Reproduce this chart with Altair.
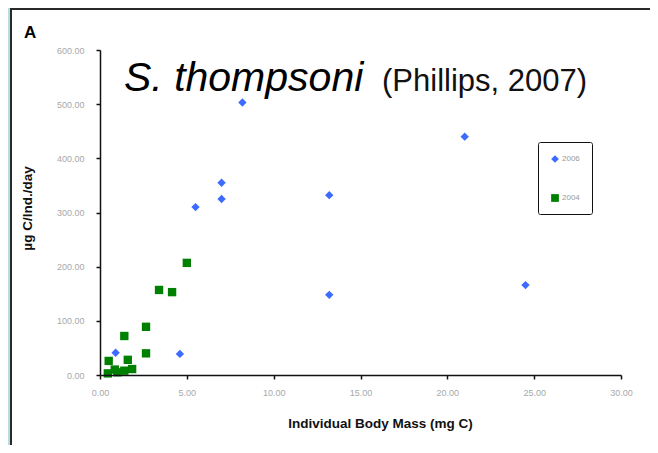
import altair as alt
import pandas as pd

# 2006 series (blue diamonds)
mass_2006 = [0.9, 4.6, 5.5, 7.0, 7.0, 8.2, 13.2, 13.2, 21.0, 24.5]
rate_2006 = [41, 39, 310, 325, 355, 503, 332, 148, 440, 166]
# 2004 series (green squares)
mass_2004 = [0.45, 0.5, 0.85, 1.0, 1.4, 1.4, 1.6, 1.85, 2.65, 2.65, 3.4, 4.15, 5.0]
rate_2004 = [3, 26, 10, 5, 8, 72, 28, 11, 40, 89, 157, 153, 207]

series_order = ["2006", "2004"]
series_colors = ["#3d6bff", "#008000"]
series_shapes = ["diamond", "square"]
x_ticks = [0, 5, 10, 15, 20, 25, 30]
y_ticks = [0, 100, 200, 300, 400, 500, 600]

df = pd.DataFrame({
    "mass": mass_2006 + mass_2004,
    "rate": rate_2006 + rate_2004,
    "year": ["2006"] * len(mass_2006) + ["2004"] * len(mass_2004),
})

W, H = 521, 325
font = "Liberation Sans"

panel = alt.Chart(pd.DataFrame({"a": [0]})).mark_rect(
    fill="white", stroke="#2a2a2a", strokeWidth=2
).encode(
    x=alt.value(-89), x2=alt.value(600), y=alt.value(-41), y2=alt.value(420)
)

points = alt.Chart(df).mark_point(filled=True, opacity=1, size=70).encode(
    x=alt.X("mass:Q", scale=alt.Scale(domain=[0, 30], nice=False, zero=True),
            axis=alt.Axis(values=x_ticks, format=".2f", title="Individual Body Mass (mg C)",
                          grid=False, titleX=280, titleY=41, zindex=2, labelPadding=9,
                          labelFlush=False)),
    y=alt.Y("rate:Q", scale=alt.Scale(domain=[0, 600], nice=False),
            axis=alt.Axis(values=y_ticks, format=".2f", title="µg C/Ind./day",
                          grid=False, titleX=-66, titleY=158, zindex=2, labelPadding=12,
                          labelFlush=False)),
    color=alt.Color("year:N", scale=alt.Scale(domain=series_order, range=series_colors),
                    legend=alt.Legend(title=None, orient="none", legendX=438, legendY=92,
                                      strokeColor="#111", padding=12, rowPadding=30,
                                      labelFontSize=8, labelColor="#999", labelFont=font,
                                      symbolSize=60, labelOffset=2, cornerRadius=2)),
    shape=alt.Shape("year:N", scale=alt.Scale(domain=series_order, range=series_shapes),
                    legend=alt.Legend(title=None, orient="none", legendX=438, legendY=92)),
)

title1 = alt.Chart(pd.DataFrame({"t": ["S. thompsoni"]})).mark_text(
    align="left", baseline="alphabetic", font=font, fontSize=41, fontStyle="italic",
    color="black"
).encode(text="t:N", x=alt.value(24), y=alt.value(41))

title2 = alt.Chart(pd.DataFrame({"t": ["(Phillips, 2007)"]})).mark_text(
    align="left", baseline="alphabetic", font=font, fontSize=31, color="#111"
).encode(text="t:N", x=alt.value(282), y=alt.value(41))

label_a = alt.Chart(pd.DataFrame({"t": ["A"]})).mark_text(
    align="left", baseline="middle", font=font, fontSize=17, fontWeight="bold", color="black"
).encode(text="t:N", x=alt.value(-76), y=alt.value(-17))

chart = alt.layer(panel, points, title1, title2, label_a).properties(
    width=W, height=H,
    background="#b8dde1",
    padding={"left": 92, "top": 42, "right": 29, "bottom": 70},
    autosize=alt.AutoSizeParams(type="none"),
).configure_view(stroke=None).configure_axis(
    domainColor="#111", domainWidth=1.5, tickColor="#111", tickSize=4, tickWidth=1.5,
    labelFont=font, labelFontSize=9, labelColor="#a8a8a8",
    titleFont=font, titleFontSize=13.5, titleFontWeight="bold", titleColor="#111",
)

chart.save("out.html", embed_options={"renderer": "svg", "actions": False})
